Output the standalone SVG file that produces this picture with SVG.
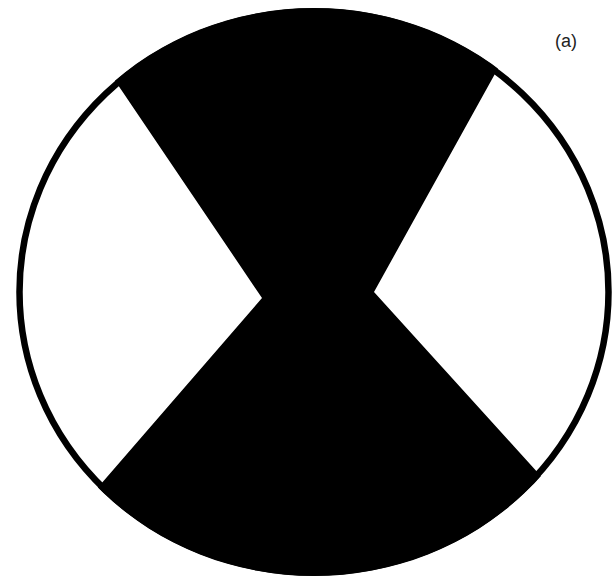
<svg xmlns="http://www.w3.org/2000/svg" width="616" height="577" viewBox="0 0 616 577">
  <defs>
    <clipPath id="disc">
      <ellipse cx="314" cy="292" rx="298" ry="284"/>
    </clipPath>
  </defs>
  <rect width="616" height="577" fill="#ffffff"/>
  <g id="sectors" clip-path="url(#disc)">
    <polygon points="49,-17 552,-29 374,292 616,559 616,600 0,600 23,574 262,298" fill="#000000"/>
  </g>
  <ellipse id="rim" cx="314" cy="292" rx="294.5" ry="280.5" fill="none" stroke="#000000" stroke-width="6.5"/>
  <text x="555" y="47" font-family="Liberation Sans, Arial, sans-serif" font-size="18" fill="#222222">(a)</text>
</svg>
